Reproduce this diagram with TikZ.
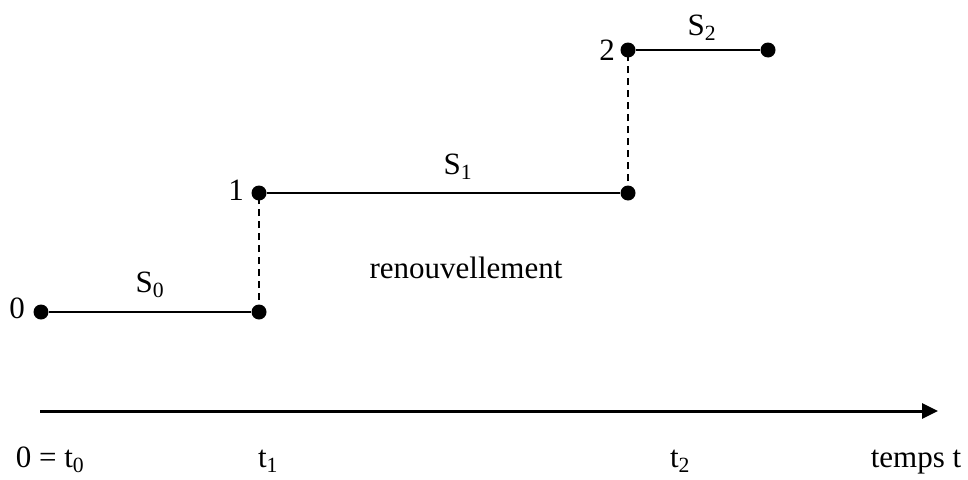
\documentclass[tikz,border=0pt]{standalone}
\usepackage{fontspec}
\setmainfont{Liberation Serif}
\usetikzlibrary{arrows.meta}
\begin{document}
\begin{tikzpicture}[x=1pt,y=-1pt,
  dot/.style={circle,fill=black,inner sep=0pt,minimum size=15pt},
  seg/.style={line width=2.2pt},
  jump/.style={line width=1.8pt,dash pattern=on 7pt off 5pt},
  lbl/.style={inner sep=0pt,anchor=base,font=\fontsize{31}{36}\selectfont}]
\useasboundingbox (0,0) rectangle (968,479);
\node[dot] (p0) at (41,312) {};
\node[dot] (p1a) at (259,312) {};
\node[dot] (p1) at (259,193) {};
\node[dot] (p2a) at (628,193) {};
\node[dot] (p2) at (628,50) {};
\node[dot] (p3) at (768,50) {};
\draw[seg] (p0) -- (p1a);
\draw[seg] (p1) -- (p2a);
\draw[seg] (p2) -- (p3);
\draw[jump] (p1a.center) -- (p1.center);
\draw[jump] (p2a.center) -- (p2.center);
\node[lbl] (l0) at (17,318) {0};
\node[lbl] (l1) at (236,200) {1};
\node[lbl] (l2) at (607,60) {2};
\node[lbl] (s0) at (150,292) {S\textsubscript{0}};
\node[lbl] (s1) at (458,174) {S\textsubscript{1}};
\node[lbl] (s2) at (702,35) {S\textsubscript{2}};
\node[lbl] (ren) at (466,278) {renouvellement};
\coordinate (ax0) at (40,411);
\coordinate (ax1) at (938,411);
\draw[line width=3pt,-{Triangle[length=16pt,width=15pt]}] (ax0) -- (ax1);
\node[lbl] (t0) at (50,467) {0 = t\textsubscript{0}};
\node[lbl] (t1) at (268,467) {t\textsubscript{1}};
\node[lbl] (t2) at (680,467) {t\textsubscript{2}};
\node[lbl] (tt) at (916,467) {temps t};
\end{tikzpicture}
\end{document}
